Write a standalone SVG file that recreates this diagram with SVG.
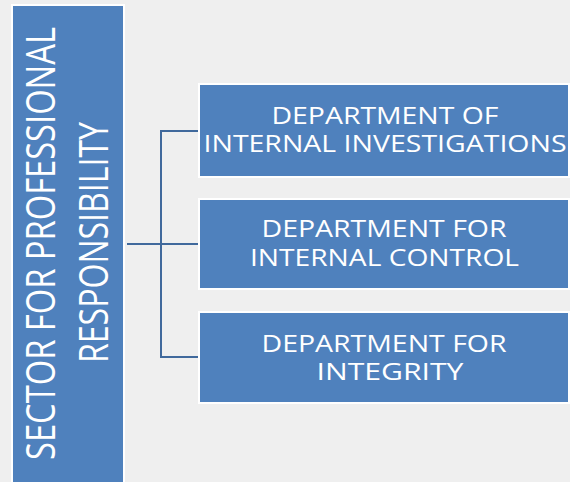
<svg xmlns="http://www.w3.org/2000/svg" width="570" height="482" viewBox="0 0 570 482">
  <style>
    .box { fill: #4f81bd; stroke: #ffffff; stroke-width: 2; }
    .lbl { fill: #ffffff; font-family: "Open Sans", "Liberation Sans", sans-serif; text-anchor: middle; }
    .sm { font-size: 24px; }
    .lg { font-size: 40px; }
    .conn { fill: none; stroke: #40699c; stroke-width: 2; }
  </style>
  <rect x="0" y="0" width="570" height="482" fill="#efefef"/>
  <g id="sector">
    <rect class="box" x="12" y="5" width="112" height="480"/>
    <text class="lbl lg" transform="translate(55,243.5) rotate(-90)" x="0" y="0" textLength="433" lengthAdjust="spacingAndGlyphs">SECTOR FOR PROFESSIONAL</text>
    <text class="lbl lg" transform="translate(108,242.5) rotate(-90)" x="0" y="0" textLength="241" lengthAdjust="spacingAndGlyphs">RESPONSIBILITY</text>
  </g>
  <g id="connectors">
    <path class="conn" d="M127,244 H198"/>
    <path class="conn" d="M198,131 H161 V357 H198"/>
  </g>
  <g id="dept-investigations">
    <rect class="box" x="199" y="84" width="370" height="93"/>
    <text class="lbl sm" x="385" y="124" textLength="227" lengthAdjust="spacingAndGlyphs">DEPARTMENT OF</text>
    <text class="lbl sm" x="385" y="152" textLength="363" lengthAdjust="spacingAndGlyphs">INTERNAL INVESTIGATIONS</text>
  </g>
  <g id="dept-control">
    <rect class="box" x="199" y="199" width="370" height="90"/>
    <text class="lbl sm" x="384" y="237" textLength="245" lengthAdjust="spacingAndGlyphs">DEPARTMENT FOR</text>
    <text class="lbl sm" x="384.5" y="266" textLength="269" lengthAdjust="spacingAndGlyphs">INTERNAL CONTROL</text>
  </g>
  <g id="dept-integrity">
    <rect class="box" x="199" y="312" width="370" height="91"/>
    <text class="lbl sm" x="384" y="352" textLength="245" lengthAdjust="spacingAndGlyphs">DEPARTMENT FOR</text>
    <text class="lbl sm" x="390" y="380" textLength="147" lengthAdjust="spacingAndGlyphs">INTEGRITY</text>
  </g>
</svg>
